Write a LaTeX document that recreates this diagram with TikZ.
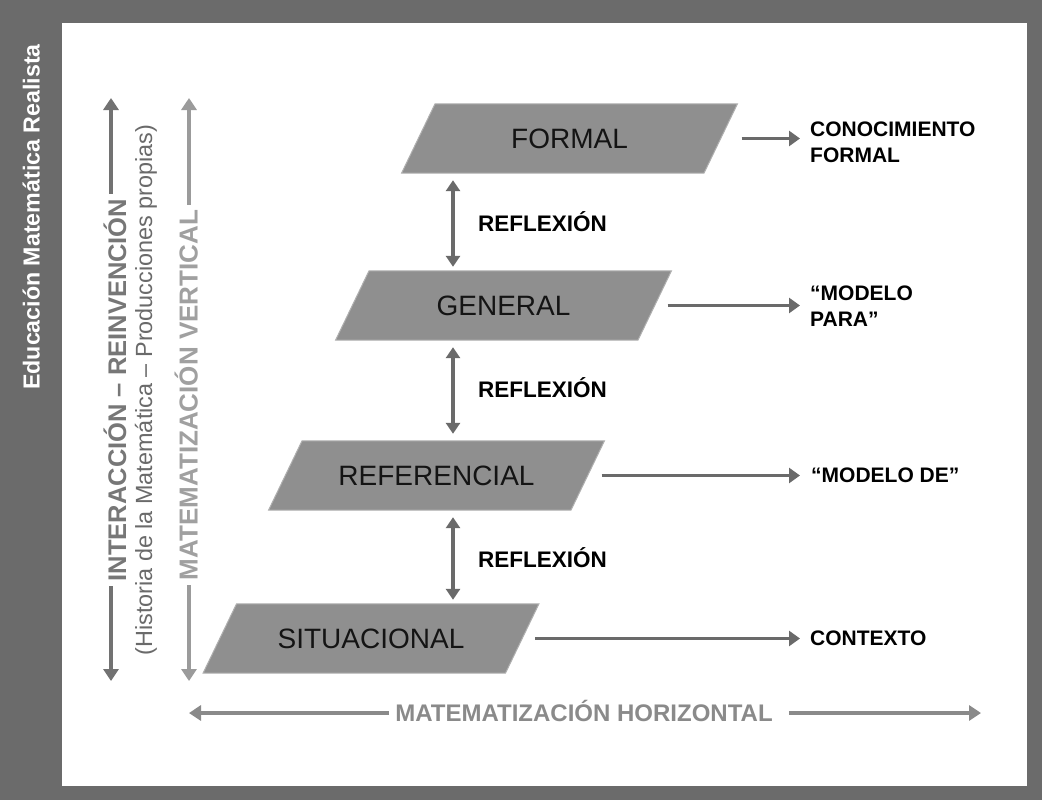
\documentclass[tikz,border=0pt]{standalone}
\usepackage{fontspec}
\setmainfont{Liberation Sans}
\usetikzlibrary{arrows.meta,backgrounds}
\definecolor{frame}{HTML}{6B6B6B}
\definecolor{pfill}{HTML}{8F8F8F}
\definecolor{pedge}{HTML}{B0B0B0}
\definecolor{darr}{HTML}{6A6A6A}
\definecolor{harrc}{HTML}{8A8A8A}
\definecolor{la}{HTML}{727272}
\definecolor{lb}{HTML}{9B9B9B}
\definecolor{ta}{HTML}{777777}
\definecolor{tb}{HTML}{6A6A6A}
\definecolor{tc}{HTML}{A0A0A0}
\newcommand{\paraback}[1]{%
  \fill[pfill, draw=pedge, line width=1pt]
    ([xshift=16.75pt]#1.north west) -- ([xshift=16.75pt]#1.north east) --
    ([xshift=-16.75pt]#1.south east) -- ([xshift=-16.75pt]#1.south west) -- cycle;}
\begin{document}
\begin{tikzpicture}[x=1pt,y=-1pt,
  para/.style={rectangle, minimum width=302pt, minimum height=69pt, inner sep=0pt,
    font=\fontsize{28}{32}\selectfont, text=black!92},
  rlabel/.style={anchor=west, inner sep=0pt, align=left,
    font=\fontsize{21}{26}\selectfont\bfseries, text=black},
  refl/.style={anchor=west, inner sep=0pt,
    font=\fontsize{22.5}{26}\selectfont\bfseries, text=black},
  rarr/.style={draw=darr, line width=3.5pt, -{Triangle[length=11pt,width=15pt]}},
  varr/.style={draw=darr, line width=3.5pt,
    {Triangle[length=11pt,width=14pt]}-{Triangle[length=11pt,width=14pt]}},
  harr/.style={draw=harrc, line width=4pt, -{Triangle[length=12pt,width=15pt]}},
  vlab/.style={rotate=90, anchor=base, inner xsep=5pt, inner ysep=0pt},
  larra/.style={draw=la, line width=4pt, -{Triangle[length=12pt,width=15pt]}},
  larrb/.style={draw=lb, line width=4pt, -{Triangle[length=12pt,width=15pt]}}
]
\useasboundingbox (0,0) rectangle (1042,800);

% side title
\node[vlab, text=white, font=\fontsize{23.2}{26}\selectfont\bfseries] (edu) at (39.5,217) {Educación Matemática Realista};

% parallelograms (text nodes)
\node[para] (formal) at (569.5,138.5) {FORMAL};
\node[para] (general) at (503.5,305.5) {GENERAL};
\node[para] (referencial) at (436.5,475.5) {REFERENCIAL};
\node[para] (situacional) at (371,638.5) {SITUACIONAL};

\begin{pgfonlayer}{background}
\fill[frame] (0,0) rectangle (1042,800);
\fill[white] (62,23) rectangle (1027,786);
\paraback{formal}
\paraback{general}
\paraback{referencial}
\paraback{situacional}
\end{pgfonlayer}

% right labels
\node[rlabel] (lformal) at (810,142) {CONOCIMIENTO\\FORMAL};
\node[rlabel] (lgeneral) at (810,306) {“MODELO\\PARA”};
\node[rlabel] (lref) at (811,475.5) {“MODELO DE”};
\node[rlabel] (lsit) at (810,638.5) {CONTEXTO};

\draw[rarr, shorten >=10pt] ([xshift=21pt]formal.east) -- (formal.east -| lformal.west);
\draw[rarr, shorten >=10pt] ([xshift=13pt]general.east) -- (general.east -| lgeneral.west);
\draw[rarr, shorten >=11pt] ([xshift=14pt]referencial.east) -- (referencial.east -| lref.west);
\draw[rarr, shorten >=10pt] ([xshift=13pt]situacional.east) -- (situacional.east -| lsit.west);

% reflexion
\coordinate (rx) at (453,0);
\node[refl] (r1) at (478,222) {REFLEXIÓN};
\node[refl] (r2) at (478,388) {REFLEXIÓN};
\node[refl] (r3) at (478,558) {REFLEXIÓN};
\draw[varr, shorten <=7pt, shorten >=4pt] (formal.south -| rx) -- (general.north -| rx);
\draw[varr, shorten <=7pt, shorten >=7pt] (general.south -| rx) -- (referencial.north -| rx);
\draw[varr, shorten <=7pt, shorten >=4pt] (referencial.south -| rx) -- (situacional.north -| rx);

% horizontal
\node[font=\fontsize{24}{28}\selectfont\bfseries, text=harrc, anchor=base, inner xsep=6pt, inner ysep=0pt]
  (mh) at (584,721.6) {MATEMATIZACIÓN HORIZONTAL};
\coordinate (hl) at (189,713);
\coordinate (hr) at (981,713);
\draw[harr] (mh.west |- hl) -- (hl);
\draw[harr, shorten <=10pt] (mh.east |- hr) -- (hr);

% left vertical arrows
\node[vlab, text=ta, font=\fontsize{25.5}{28}\selectfont\bfseries] (inter) at (126,390) {INTERACCIÓN – REINVENCIÓN};
\node[vlab, text=tb, font=\fontsize{23.4}{26}\selectfont] (hist) at (152,390) {(Historia de la Matemática – Producciones propias)};
\node[vlab, text=tc, font=\fontsize{26}{28}\selectfont\bfseries] (vert) at (197.5,395) {MATEMATIZACIÓN VERTICAL};
\coordinate (a1t) at (111,98);
\coordinate (a1b) at (111,681);
\coordinate (a2t) at (189,98);
\coordinate (a2b) at (189,681);
\draw[larra] (a1t |- inter.east) -- (a1t);
\draw[larra] (a1b |- inter.west) -- (a1b);
\draw[larrb] (a2t |- vert.east) -- (a2t);
\draw[larrb] (a2b |- vert.west) -- (a2b);
\end{tikzpicture}
\end{document}
